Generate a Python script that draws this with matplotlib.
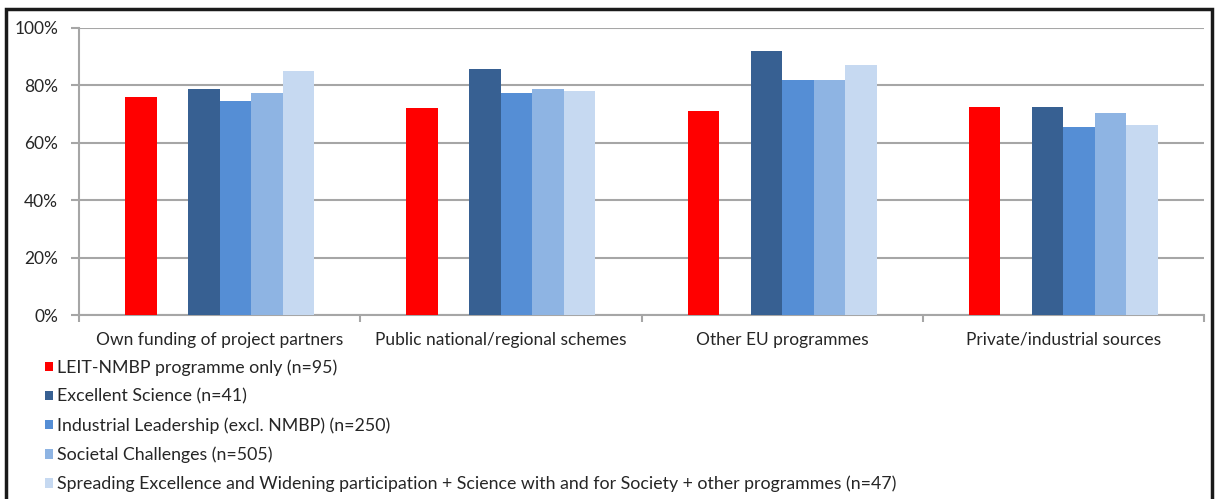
import numpy as np
import matplotlib
matplotlib.use("Agg")
import matplotlib.pyplot as plt
from matplotlib.patches import Rectangle
from matplotlib.ticker import PercentFormatter

plt.rcParams["font.family"] = ["Lato", "DejaVu Sans"]

# data
categories = ["Own funding of project partners", "Public national/regional schemes",
              "Other EU programmes", "Private/industrial sources"]
series_names = ["LEIT-NMBP programme only (n=95)",
                "Excellent Science (n=41)",
                "Industrial Leadership (excl. NMBP) (n=250)",
                "Societal Challenges (n=505)",
                "Spreading Excellence and Widening participation + Science with and for Society + other programmes (n=47)"]
leit = [76, 72, 71, 72.5]
excellent = [78.7, 85.7, 92, 72.5]
industrial = [74.6, 77.2, 82, 65.5]
societal = [77.2, 78.6, 82, 70.3]
spreading = [85, 78.2, 87, 66.2]
colors = ["#FF0000", "#376092", "#558ED5", "#8EB4E3", "#C6D9F1"]

fig = plt.figure(figsize=(12.18, 4.99), dpi=100)
ax = fig.add_axes([0.0649, 0.3687, 0.9236, 0.5752])

x = np.arange(len(categories))
w = 0.112
# slot 1 is left empty, as in the original layout
slots = [0, 2, 3, 4, 5]
all_series = [leit, excellent, industrial, societal, spreading]
handles = []
for vals, slot, col, name in zip(all_series, slots, colors, series_names):
    b = ax.bar(x + (slot - 2.5) * w, vals, width=w, color=col, label=name, zorder=3)
    handles.append(b)

ax.set_xlim(-0.5, 3.5)
ax.set_ylim(0, 100)
ax.set_yticks(range(0, 101, 20))
ax.yaxis.set_major_formatter(PercentFormatter(decimals=0))
ax.grid(axis="y", color="#A6A6A6", linewidth=1.5, zorder=0)

ax.set_xticks(np.arange(-0.5, 4, 1))
ax.set_xticklabels([])
ax.set_xticks(x, minor=True)
ax.set_xticklabels(categories, minor=True)
ax.tick_params(axis="x", which="major", length=5, width=1.5, color="#A6A6A6")
ax.tick_params(axis="x", which="minor", length=0, pad=12, labelsize=12.5, labelcolor="#262626")
ax.tick_params(axis="y", length=6, width=1.5, color="#A6A6A6", pad=9, labelsize=12.5,
               labelcolor="#262626")

for s in ["top", "right"]:
    ax.spines[s].set_visible(False)
for s in ["left", "bottom"]:
    ax.spines[s].set_color("#A6A6A6")
    ax.spines[s].set_linewidth(1.5)

fig.legend(handles=handles, loc="upper left", bbox_to_anchor=(0.031, 0.294),
           frameon=False, fontsize=12.8, handlelength=0.45, handleheight=0.45,
           handletextpad=0.25, labelspacing=0.71, borderaxespad=0, labelcolor="#262626")

# outer frame of the chart
fig.patches.append(Rectangle((6 / 1218, -0.05), 1206 / 1218, (499 - 9) / 499 + 0.05,
                             transform=fig.transFigure, fill=False, edgecolor="#1A1A1A",
                             linewidth=2.5))

fig.savefig("out.png", dpi=100)
